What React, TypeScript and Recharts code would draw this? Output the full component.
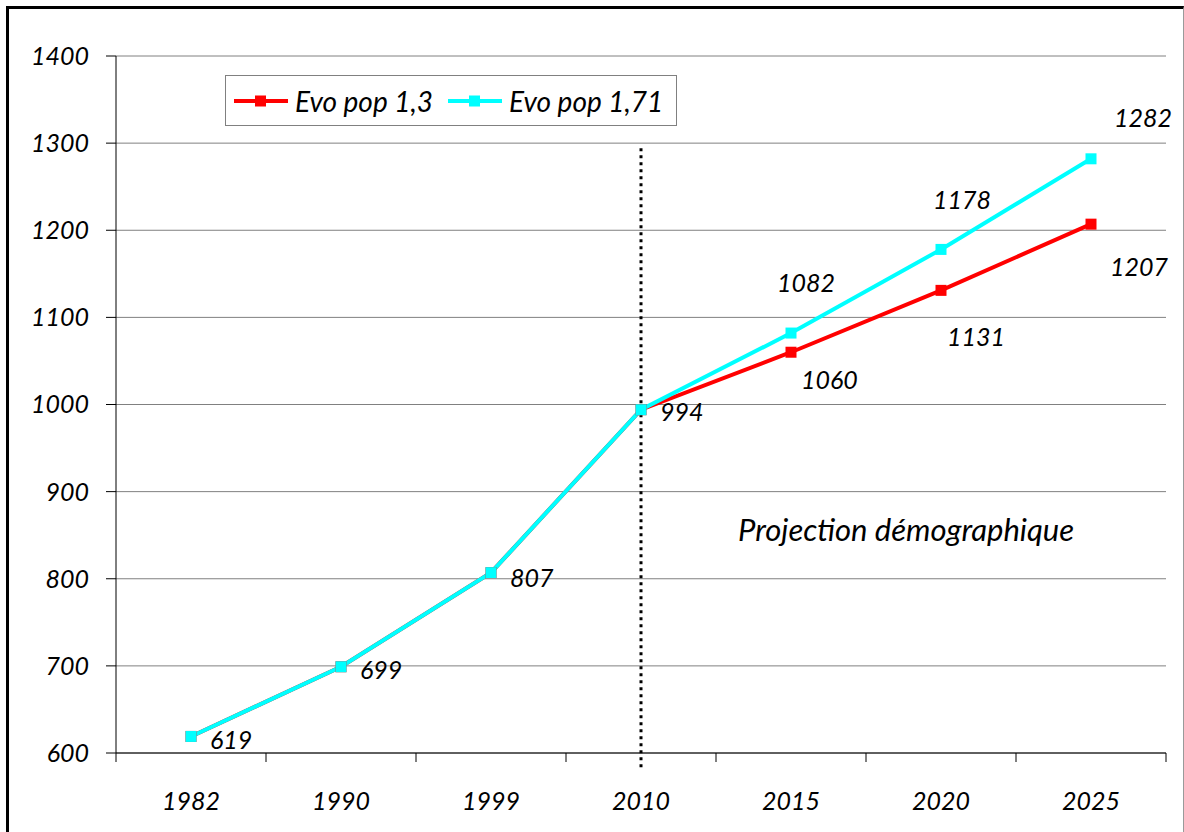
import React from "react";
import {
  CartesianGrid,
  Customized,
  LabelList,
  Line,
  LineChart,
  ReferenceLine,
  XAxis,
  YAxis,
} from "recharts";

const YEARS = ["1982", "1990", "1999", "2010", "2015", "2020", "2025"];
const POP_1_3 = [619, 699, 807, 994, 1060, 1131, 1207];
const POP_1_71 = [619, 699, 807, 994, 1082, 1178, 1282];
const Y_TICKS = [600, 700, 800, 900, 1000, 1100, 1200, 1300, 1400];
const SERIES_NAMES = ["Evo pop 1,3", "Evo pop 1,71"];
const PROJECTION_YEAR = "2010";
const PROJECTION_TEXT = "Projection démographique";

const data = YEARS.map((year, i) => ({
  year,
  pop13: POP_1_3[i],
  pop171: POP_1_71[i],
}));

// label placement, [dx, dy] from the point (baseline, text-anchor start)
const OFF_171: (number[] | null)[] = [
  [19, 13], [19, 12], [19, 14], [19, 11], [-14, -41], [-8, -40], [23, -32],
];
const OFF_13: (number[] | null)[] = [null, null, null, null, [10, 37], [6, 56], [19, 52]];

const FONT = "Lato, 'Open Sans', sans-serif";
const W = 1184;
const H = 832;
const PLOT_L = 116;
const PLOT_R = 1166;
const BAND = (PLOT_R - PLOT_L) / YEARS.length;

const RED = "#ff0000";
const CYAN = "#00ffff";
const COLORS = [RED, CYAN];

function SquareDot(props: any) {
  const { cx, cy, fill } = props;
  if (cx == null || cy == null) return null;
  return <rect x={cx - 5.5} y={cy - 5.5} width={11} height={11} fill={fill} />;
}

function makeLabel(offsets: (number[] | null)[]) {
  return (props: any) => {
    const { x, y, value, index } = props;
    const off = offsets[index];
    if (!off) return null;
    return (
      <text
        x={x + off[0]}
        y={y + off[1]}
        fontFamily={FONT}
        fontStyle="italic"
        fontSize={25}
        fill="#000"
        textAnchor="start"
      >
        {value}
      </text>
    );
  };
}

function XTick(props: any) {
  const { x, y, payload, index } = props;
  const left = x - BAND / 2;
  return (
    <g>
      <line x1={left} y1={y} x2={left} y2={y + 9} stroke="#000" strokeWidth={1} />
      {index === YEARS.length - 1 && (
        <line x1={x + BAND / 2} y1={y} x2={x + BAND / 2} y2={y + 9} stroke="#000" strokeWidth={1} />
      )}
      <text
        x={x}
        y={y + 57}
        textAnchor="middle"
        fontFamily={FONT}
        fontStyle="italic"
        fontSize={25}
        fill="#000"
      >
        {payload.value}
      </text>
    </g>
  );
}

function LegendBox() {
  return (
    <div
      style={{
        position: "absolute",
        left: 225,
        top: 75,
        border: "1px solid #808080",
        background: "#fff",
        width: 452,
        height: 51,
        display: "flex",
        alignItems: "center",
        paddingLeft: 8,
        boxSizing: "border-box",
        fontFamily: FONT,
        fontStyle: "italic",
        fontSize: 28,
        whiteSpace: "nowrap",
      }}
    >
      {SERIES_NAMES.map((name, i) => (
        <div key={name} style={{ display: "flex", alignItems: "center", marginRight: 15 }}>
          <svg width={54} height={12} style={{ marginRight: 7 }}>
            <line x1={0} y1={6} x2={54} y2={6} stroke={COLORS[i]} strokeWidth={4} />
            <rect x={21} y={0.5} width={11} height={11} fill={COLORS[i]} />
          </svg>
          <span>{name}</span>
        </div>
      ))}
    </div>
  );
}

export default function App() {
  return (
    <div style={{ position: "absolute", left: 0, top: 0, width: W, height: H, background: "#fff", overflow: "hidden" }}>
      <div
        style={{
          position: "absolute",
          left: 6,
          top: 6,
          width: 1178,
          height: 840,
          borderLeft: "3px solid #000",
          borderTop: "3px solid #000",
          borderRight: "1px solid #9a9a9a",
          boxSizing: "border-box",
        }}
      />
      <LineChart
        width={W}
        height={H}
        data={data}
        margin={{ top: 56, right: 18, bottom: 19, left: 16 }}
        style={{ position: "absolute", left: 0, top: 0 }}
      >
        <CartesianGrid vertical={false} stroke="#808080" strokeWidth={1} />
        <XAxis
          dataKey="year"
          scale="band"
          axisLine={{ stroke: "#000", strokeWidth: 1 }}
          tickLine={false}
          tickSize={0}
          tickMargin={0}
          height={60}
          tick={<XTick />}
          interval={0}
        />
        <YAxis
          domain={[600, 1400]}
          ticks={Y_TICKS}
          width={100}
          axisLine={{ stroke: "#000", strokeWidth: 1 }}
          tickLine={{ stroke: "#000", strokeWidth: 1 }}
          tickSize={10}
          tickMargin={17}
          tick={{ fontFamily: FONT, fontStyle: "italic", fontSize: 25, fill: "#000" }}
        />
        <ReferenceLine
          segment={[
            { x: PROJECTION_YEAR, y: 1294 },
            { x: PROJECTION_YEAR, y: 580 },
          ]}
          ifOverflow="visible"
          stroke="#000"
          strokeWidth={3}
          strokeDasharray="3 4"
        />
        <Line
          dataKey="pop13"
          name={SERIES_NAMES[0]}
          stroke={RED}
          fill={RED}
          strokeWidth={4}
          dot={<SquareDot fill={RED} />}
          isAnimationActive={false}
        >
          <LabelList dataKey="pop13" content={makeLabel(OFF_13)} />
        </Line>
        <Line
          dataKey="pop171"
          name={SERIES_NAMES[1]}
          stroke={CYAN}
          fill={CYAN}
          strokeWidth={4}
          dot={<SquareDot fill={CYAN} />}
          isAnimationActive={false}
        >
          <LabelList dataKey="pop171" content={makeLabel(OFF_171)} />
        </Line>
        <Customized
          component={() => (
            <text x={738} y={541} fontFamily={FONT} fontStyle="italic" fontSize={31} fill="#000">
              {PROJECTION_TEXT}
            </text>
          )}
        />
      </LineChart>
      <LegendBox />
    </div>
  );
}
